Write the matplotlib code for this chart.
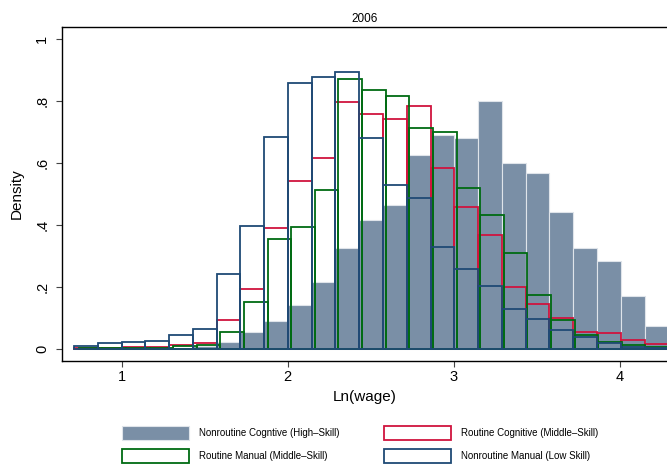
import numpy as np
import matplotlib
matplotlib.use("Agg")
import matplotlib.pyplot as plt

plt.rcParams['font.family'] = ['Liberation Sans', 'DejaVu Sans']

# bin layout (start, width)
bins_common = (0.713, 0.1432)
bins_manual_mid = (0.742, 0.1422)

# densities per bin
nonroutine_cog = [0.001, 0.002, 0.002, 0.003, 0.005, 0.010, 0.025, 0.055, 0.090, 0.143,
                  0.216, 0.326, 0.416, 0.465, 0.627, 0.691, 0.680, 0.800, 0.600, 0.568,
                  0.442, 0.328, 0.285, 0.173, 0.075]
routine_cog = [0.004, 0.005, 0.006, 0.008, 0.014, 0.021, 0.095, 0.194, 0.392, 0.543,
               0.618, 0.798, 0.759, 0.743, 0.783, 0.585, 0.457, 0.369, 0.200, 0.147,
               0.100, 0.056, 0.052, 0.030, 0.017]
routine_man = [0.003, 0.003, 0.005, 0.005, 0.011, 0.013, 0.056, 0.152, 0.357, 0.393,
               0.512, 0.872, 0.834, 0.817, 0.714, 0.700, 0.521, 0.434, 0.311, 0.174,
               0.096, 0.045, 0.024, 0.014, 0.007]
nonroutine_man = [0.012, 0.019, 0.025, 0.027, 0.046, 0.066, 0.244, 0.396, 0.685, 0.858,
                  0.879, 0.892, 0.681, 0.530, 0.489, 0.330, 0.258, 0.205, 0.130, 0.097,
                  0.062, 0.041, 0.021, 0.008, 0.005]

labels = ['Nonroutine Cogntive (High–Skill)', 'Routine Cognitive (Middle–Skill)',
          'Routine Manual (Middle–Skill)', 'Nonroutine Manual (Low Skill)']
yticks = [0, 0.2, 0.4, 0.6, 0.8, 1.0]
yticklabels = ['0', '.2', '.4', '.6', '.8', '1']
xticks = [1, 2, 3, 4]


def left_edges(spec, n):
    start, w = spec
    return start + w * np.arange(n), w


fig = plt.figure(figsize=(6.67, 4.68), dpi=100)
ax = fig.add_axes([0.0925, 0.2293, 0.9075, 0.7124])

x, w = left_edges(bins_common, len(nonroutine_cog))
h1 = ax.bar(x, nonroutine_cog, width=w, align='edge', color='#7a8fa6',
            edgecolor='#dfe4ea', linewidth=0.8)

x, w = left_edges(bins_common, len(routine_cog))
h2 = ax.bar(x, routine_cog, width=w, align='edge', facecolor='none',
            edgecolor='#d0143e', linewidth=1.3)

x, w = left_edges(bins_manual_mid, len(routine_man))
h3 = ax.bar(x, routine_man, width=w, align='edge', facecolor='none',
            edgecolor='#006b12', linewidth=1.3)

x, w = left_edges(bins_common, len(nonroutine_man))
h4 = ax.bar(x, nonroutine_man, width=w, align='edge', facecolor='none',
            edgecolor='#1f4a75', linewidth=1.3)

ax.set_xlim(0.639, 4.285)
ax.set_ylim(-0.0367, 1.0377)
ax.set_xticks(xticks)
ax.set_yticks(yticks)
ax.set_yticklabels(yticklabels, rotation=90, va='center')
ax.tick_params(labelsize=10.5, length=4, color='#444444', pad=3)
ax.tick_params(axis='y', pad=5)
ax.spines['right'].set_visible(False)
for s in ['left', 'bottom', 'top']:
    ax.spines[s].set_linewidth(1.0)

ax.set_title('2006', fontsize=8.5, pad=4)
ax.set_xlabel('Ln(wage)', fontsize=11, labelpad=4)
ax.set_ylabel('Density', fontsize=11, labelpad=8)

# legend fills column-wise, so order handles to read row-wise like the original
fig.legend([h1, h3, h2, h4], [labels[0], labels[2], labels[1], labels[3]],
           ncol=2, loc='upper left',
           bbox_to_anchor=(122 / 667, 1 - 426 / 468), frameon=False,
           fontsize=7, handlelength=6.9, handleheight=1.85, handletextpad=1.0,
           labelspacing=0.95, columnspacing=4.6, borderpad=0, borderaxespad=0)

fig.savefig('out.png', dpi=100)
